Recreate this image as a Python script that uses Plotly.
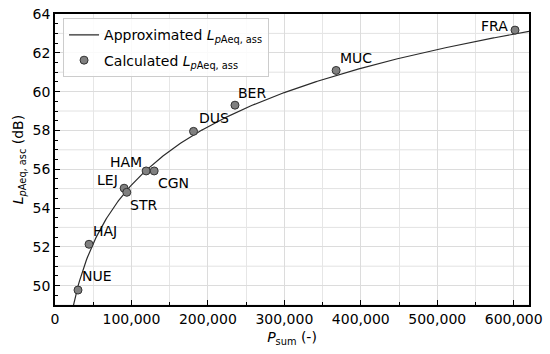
import numpy as np
import plotly.graph_objects as go

# Data
airports = ["NUE", "HAJ", "LEJ", "STR", "HAM", "CGN", "DUS", "BER", "MUC", "FRA"]
p_sum = [30100, 44500, 90400, 93900, 119200, 129700, 181200, 235400, 367700, 601700]
l_paeq = [49.77, 52.13, 55.02, 54.81, 55.91, 55.91, 57.95, 59.30, 61.09, 63.17]

# Approximation curve coefficients (L = a*log10(P) + b)
fit_a = 10.0
fit_b = 5.18
curve_x_min = 23000
curve_x_max = 620000

# Label placement (pixel offsets relative to the point)
label_anchor = ["left", "left", "right", "left", "right", "left", "left", "left", "left", "right"]
label_dx = [2, 2, -4, 1, -2, 2, 3, 1, 2, -5]
label_dy = [14, 13, 8, -13, 9, -12, 13, 12, 12, 4]

FONT = "DejaVu Sans"
Y_MIN, Y_MAX = 49, 64

cx = np.linspace(curve_x_min, curve_x_max, 400)
cy = fit_a * np.log10(cx) + fit_b

fig = go.Figure()
fig.add_trace(go.Scatter(
    x=cx, y=cy, mode="lines",
    line=dict(color="#2b2b2b", width=1.2),
    name="Approximated <i>L</i><sub><i>p</i>Aeq, ass</sub>",
    legendgroup="fit",
))
fig.add_trace(go.Scatter(
    x=p_sum, y=l_paeq, mode="markers",
    marker=dict(size=8, color="#808080", line=dict(color="#333333", width=1)),
    name="Calculated <i>L</i><sub><i>p</i>Aeq, ass</sub>",
    legendgroup="calc",
))

for name, x, y, anc, dx, dy in zip(airports, p_sum, l_paeq, label_anchor, label_dx, label_dy):
    fig.add_annotation(
        x=x, y=y, xref="x", yref="y", text=name, showarrow=False,
        xanchor=anc, yanchor="middle", xshift=dx, yshift=dy,
        font=dict(family=FONT, size=14, color="black"),
    )

# grid lines at odd integers (between the labelled even ticks)
for v in range(Y_MIN, Y_MAX + 1):
    if v % 2 == 1:
        fig.add_shape(type="line", xref="paper", yref="y", x0=0, x1=1, y0=v, y1=v,
                      line=dict(color="#e2e2e2", width=1), layer="below")

fig.update_layout(
    width=550, height=354,
    margin=dict(l=55, r=21, t=14, b=49),
    paper_bgcolor="white", plot_bgcolor="white",
    font=dict(family=FONT, size=14, color="black"),
    showlegend=True,
    legend=dict(
        x=0.017, y=0.985, xanchor="left", yanchor="top",
        bgcolor="rgba(255,255,255,0.85)", bordercolor="#cccccc", borderwidth=1,
        font=dict(family=FONT, size=14, color="black"),
        tracegroupgap=4, itemwidth=30,
    ),
    xaxis=dict(
        range=[0, 620000], tickmode="linear", tick0=0, dtick=100000,
        tickformat=",d", ticks="inside", ticklen=5, tickwidth=1, tickcolor="black",
        showgrid=True, gridcolor="#dcdcdc", gridwidth=1, zeroline=False,
        showline=True, linecolor="black", linewidth=1.5, mirror=True,
        minor=dict(dtick=50000, ticks="inside", ticklen=3, tickcolor="black",
                   showgrid=True, gridcolor="#e6e6e6", gridwidth=1),
        title=dict(text="<i>P</i><sub>sum</sub> (-)", standoff=7,
                   font=dict(family=FONT, size=14)),
        tickfont=dict(family=FONT, size=14),
        automargin=False,
    ),
    yaxis=dict(
        range=[Y_MIN, Y_MAX], tickmode="linear", tick0=0, dtick=2,
        ticks="inside", ticklen=5, tickwidth=1, tickcolor="black",
        showgrid=True, gridcolor="#dcdcdc", gridwidth=1, zeroline=False,
        showline=True, linecolor="black", linewidth=1.5, mirror=True,
        minor=dict(dtick=0.5, ticks="inside", ticklen=3, tickcolor="black", showgrid=False),
        title=dict(text="<i>L</i><sub><i>p</i>Aeq, asc</sub> (dB)", standoff=6,
                   font=dict(family=FONT, size=14)),
        tickfont=dict(family=FONT, size=14),
        automargin=False,
    ),
)

# remove the browser's default 8px body margin so the figure fills the window
fig.write_html("out.html", config={"displayModeBar": False},
               post_script="document.body.style.margin='0px';")
